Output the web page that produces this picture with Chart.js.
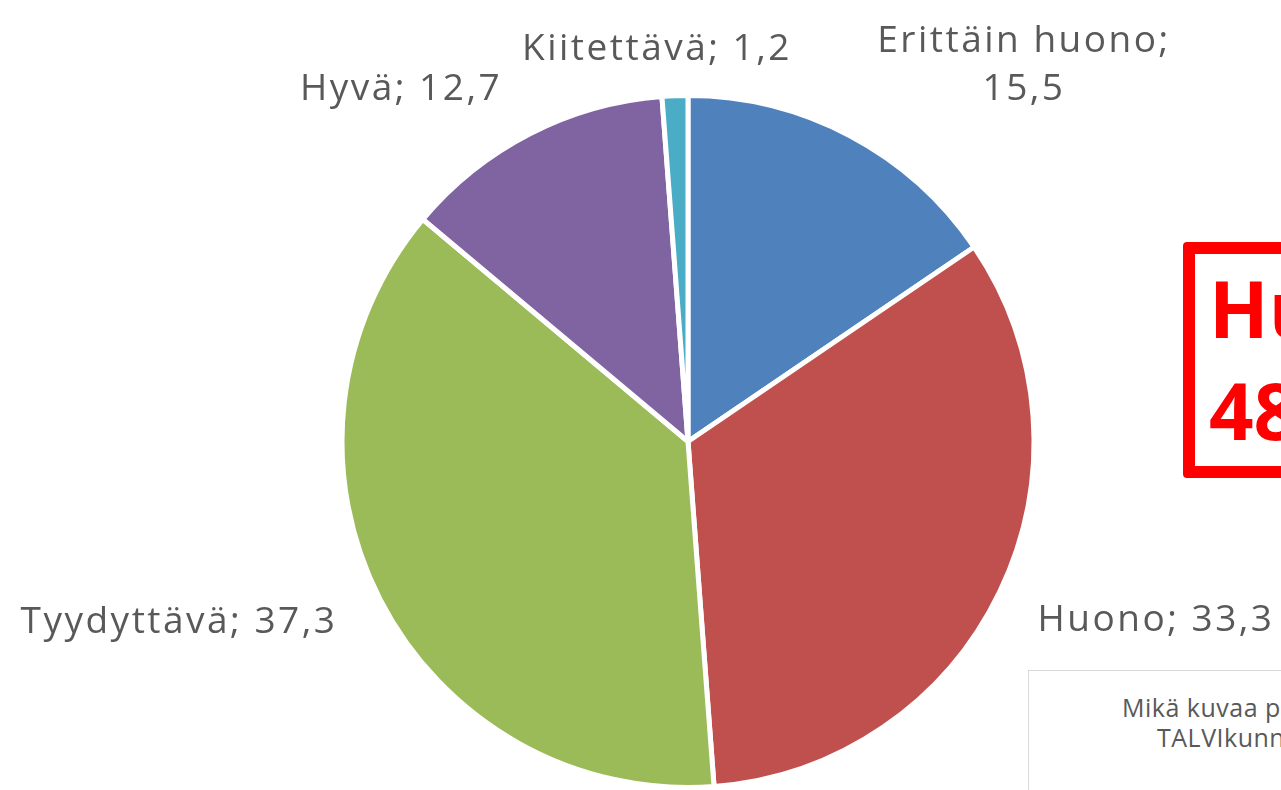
<!DOCTYPE html>
<html>
<head>
<meta charset="utf-8">
<script src="https://cdn.jsdelivr.net/npm/chart.js@4"></script>
<style>
    html, body { margin: 0; padding: 0; background: #fff; overflow: hidden; }
    #wrap { position: relative; width: 1281px; height: 790px; overflow: hidden; }
    #chart { position: absolute; left: 0; top: 0; }
    .callout {
        position: absolute; left: 1183px; top: 242px; width: 300px; height: 212px;
        border: 12px solid #ff0000; border-radius: 4px;
        font-family: "Open Sans", sans-serif; font-weight: bold; color: #ff0000;
        font-size: 78px; line-height: 100px; white-space: nowrap;
    }
    .callout div { position: absolute; left: 14px; }
    .note {
        position: absolute; left: 1028px; top: 670px; width: 400px; height: 200px;
        border: 1px solid #d9d9d9; background: #fff;
        font-family: "Open Sans", sans-serif; color: #595959; font-size: 25px;
        letter-spacing: 0.5px; white-space: nowrap;
    }
    .note div { position: absolute; }
</style>
</head>
<body>
<div id="wrap">
    <canvas id="chart" width="1281" height="790"></canvas>
    <div class="callout">
        <div style="top: 4px;">Huonoja</div>
        <div style="top: 106px;">48,8 %</div>
    </div>
    <div class="note">
        <div style="left: 93px; top: 19px;">Mikä kuvaa parhaiten</div>
        <div style="left: 128px; top: 49px;">TALVIkunnossapitoa</div>
    </div>
</div>
<script>
document.addEventListener('DOMContentLoaded', () => {
    // Data
    const categories = ['Erittäin huono', 'Huono', 'Tyydyttävä', 'Hyvä', 'Kiitettävä'];
    const shares = [15.5, 33.3, 37.3, 12.7, 1.2];
    const colors = ['#4F81BD', '#C0504D', '#9BBB59', '#8064A2', '#4BACC6'];

    // Label placement (centre x, baseline y, split onto two lines?)
    const labelPos = [
        { x: 1024, y: 52, twoLines: true },
        { x: 1156, y: 631 },
        { x: 179, y: 633 },
        { x: 401, y: 100 },
        { x: 657, y: 60 }
    ];

    const fmt = v => v.toFixed(1).replace('.', ',');

    const pieLabels = {
        id: 'pieLabels',
        afterDraw(chart) {
            const ctx = chart.ctx;
            const meta = chart.getDatasetMeta(0);
            ctx.save();
            ctx.font = '37px "Open Sans", sans-serif';
            ctx.letterSpacing = '2.5px';
            ctx.fillStyle = '#595959';
            ctx.textAlign = 'center';
            ctx.textBaseline = 'alphabetic';
            meta.data.forEach((arc, i) => {
                const p = labelPos[i];
                const name = chart.data.labels[i];
                const val = fmt(chart.data.datasets[0].data[i]);
                if (p.twoLines) {
                    ctx.fillText(name + ';', p.x, p.y);
                    ctx.fillText(val, p.x, p.y + 48);
                } else {
                    ctx.fillText(name + '; ' + val, p.x, p.y);
                }
            });
            ctx.restore();
        }
    };

    new Chart(document.getElementById('chart'), {
        type: 'pie',
        data: {
            labels: categories,
            datasets: [{
                data: shares,
                backgroundColor: colors,
                borderColor: '#ffffff',
                borderWidth: 5
            }]
        },
        options: {
            responsive: false,
            animation: false,
            layout: {
                padding: { left: 338, right: 243, top: 93, bottom: -3 }
            },
            plugins: {
                legend: { display: false },
                tooltip: { enabled: false }
            }
        },
        plugins: [pieLabels]
    });
});
</script>
</body>
</html>
